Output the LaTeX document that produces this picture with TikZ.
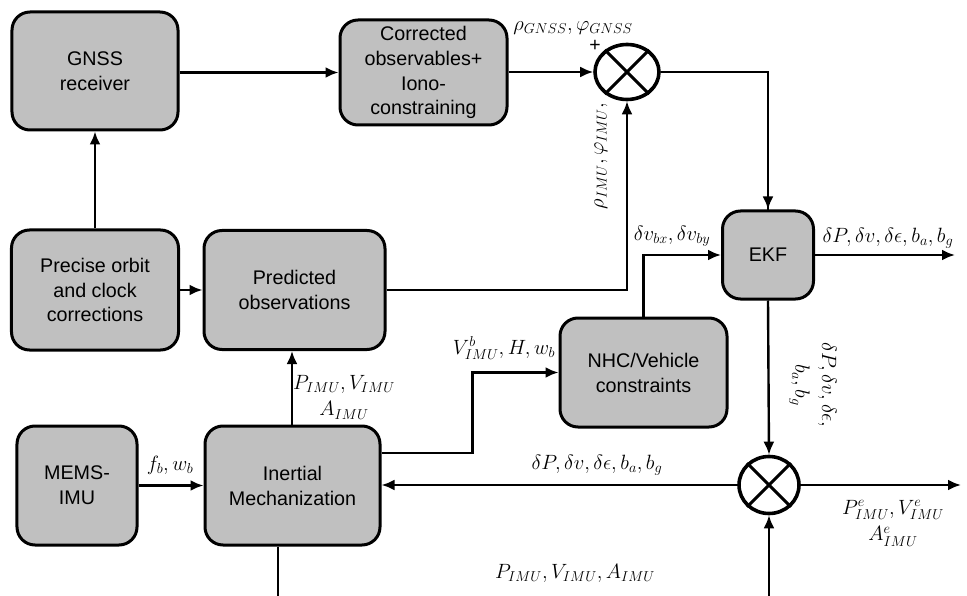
\documentclass[tikz,border=0pt]{standalone}
\usepackage{fontspec}
\setmainfont{Liberation Sans}
\usetikzlibrary{arrows.meta,shapes.geometric,calc}
\definecolor{boxgray}{RGB}{192,192,192}
\begin{document}
\begin{tikzpicture}[x=1bp,y=-1bp,
  blk/.style={draw,line width=3bp,fill=boxgray,rounded corners=18bp,align=center,
    font=\fontsize{19.8}{25}\selectfont,inner sep=0pt},
  conn/.style={line width=2.4bp},
  arr/.style={conn,-{Latex[length=13bp,width=11bp]}},
  sumj/.style={draw,line width=3.6bp,ellipse,inner sep=0pt},
  crossl/.style={line width=3bp},
  lbl/.style={font=\fontsize{19.5}{27}\selectfont,inner sep=0pt,align=center}]
\useasboundingbox (0,0) rectangle (967,596);

% blocks
\node[blk,minimum width=166bp,minimum height=118bp] (gnss) at (95,71) {GNSS\\receiver};
\node[blk,minimum width=167bp,minimum height=120bp] (precise) at (95,290) {Precise orbit\\and clock\\corrections};
\node[blk,minimum width=181bp,minimum height=119bp] (pred) at (294.5,290) {Predicted\\observations};
\node[blk,minimum width=167bp,minimum height=105bp] (corr) at (423.5,72.5) {Corrected\\observables+\\Iono-\\constraining};
\node[blk,minimum width=91bp,minimum height=88bp] (ekf) at (768,255) {EKF};
\node[blk,minimum width=167bp,minimum height=109bp] (nhc) at (643.5,372.5) {NHC/Vehicle\\constraints};
\node[blk,minimum width=120bp,minimum height=119bp] (mems) at (77,485.5) {MEMS-\\IMU};
\node[blk,minimum width=175bp,minimum height=119bp] (inert) at (292.5,485.5) {Inertial\\Mechanization};

% summing junctions
\node[sumj,minimum width=64bp,minimum height=55bp] (sum1) at (627,72) {};
\draw[crossl] (sum1.45) -- (sum1.225) (sum1.135) -- (sum1.315);
\node[sumj,minimum width=60bp,minimum height=57bp] (sum2) at (769,485) {};
\draw[crossl] (sum2.45) -- (sum2.225) (sum2.135) -- (sum2.315);

% connectors
\draw[arr] (gnss.east |- corr.west) -- (corr.west);
\draw[arr] (corr.east |- sum1.west) -- (sum1.west);
\draw[conn] (sum1.east) -| ([yshift=-1bp]ekf.north);
\draw[arr] (sum1.east -| ekf.north) -- (ekf.north);
\draw[arr] (pred.east) -| (sum1.south);
\draw[arr] (precise.east) -- (pred.west);
\draw[arr] (precise.north) -- (gnss.south);
\draw[arr] (inert.north -| 292,0) -- (pred.south -| 292,0);
\draw[arr] (mems.east) -- (mems.east -| inert.west);
\draw[arr] ([yshift=32.5bp]inert.east) -- ++(91,0) |- (nhc.west);
\draw[arr] (nhc.north) |- (ekf.west);
\coordinate (ekfout) at (955,255);
\draw[arr] (ekf.east) -- (ekfout);
\draw[arr] (ekf.south) -- (sum2.north);
\draw[arr] (sum2.west) -- (sum2.west -| inert.east);
\coordinate (sumout) at (961,485);
\draw[arr] (sum2.east) -- (sumout);
\coordinate (botL) at (278,596);
\draw[conn] (inert.south -| botL) -- (botL);
\coordinate (botR) at (769,596);
\draw[arr] (botR) -- (sum2.south);

% labels
\node[lbl] (lgnss) at (573,28) {$\rho_{GNSS}, \varphi_{GNSS}$};
\node[lbl] (lplus) at (595,46) {+};
\node[lbl,rotate=90] (limu) at (601,156) {$\rho_{IMU}, \varphi_{IMU},$};
\node[lbl] (ldv) at (672,236) {$\delta v_{bx}, \delta v_{by}$};
\node[lbl] (lekf) at (888,238) {$\delta P, \delta v, \delta\epsilon, b_a, b_g$};
\node[lbl,rotate=-90] (lekfd) at (813,385) {$\delta P, \delta v, \delta\epsilon,$\\$b_a, b_g$};
\node[lbl] (lvb) at (504,348) {$V^{b}_{IMU}, H, w_b$};
\node[lbl] (lpv) at (344,397) {$P_{IMU}, V_{IMU}$\\$A_{IMU}$};
\node[lbl] (lfb) at (170,465) {$f_b, w_b$};
\node[lbl] (lfb2) at (597,465) {$\delta P, \delta v, \delta\epsilon, b_a, b_g$};
\node[lbl] (lpe) at (893,523) {$P^{e}_{IMU}, V^{e}_{IMU}$\\$A^{e}_{IMU}$};
\node[lbl] (lpva) at (575,573) {$P_{IMU}, V_{IMU}, A_{IMU}$};
\end{tikzpicture}
\end{document}
